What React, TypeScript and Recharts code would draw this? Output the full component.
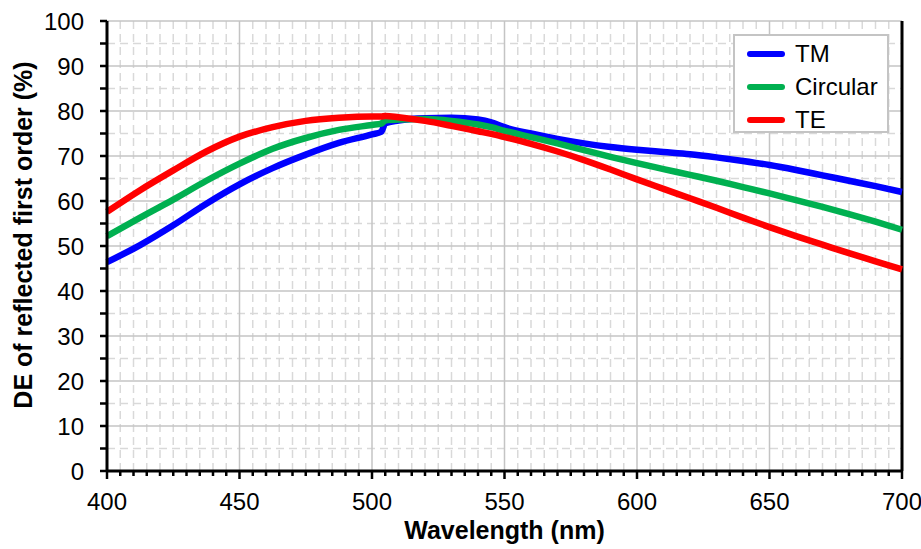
import React from 'react';
import { LineChart, Line, XAxis, YAxis, ReferenceLine } from 'recharts';

const wavelengths = [
  400, 412.5, 425, 437.5, 450, 462.5, 475, 487.5, 500, 503.5, 505, 510, 520, 530, 540, 545,
  550, 560, 570, 580, 590, 600, 610, 620, 630, 640, 650, 660, 670, 680, 690, 700,
];
const tmValues = [
  46.4, 50.2, 54.6, 59.4, 63.7, 67.3, 70.3, 72.9, 74.8, 75.4, 77.3, 77.9, 78.4, 78.5, 78.1, 77.5,
  76.4, 75.0, 73.8, 72.8, 72.0, 71.4, 70.9, 70.4, 69.7, 68.9, 68.0, 66.9, 65.7, 64.5, 63.3, 62.0,
];
const circularValues = [
  52.2, 56.3, 60.3, 64.5, 68.3, 71.6, 74.0, 75.8, 76.9, 77.2, 77.9, 78.1, 78.2, 77.8, 77.0, 76.4,
  75.6, 74.2, 72.8, 71.3, 69.8, 68.4, 67.1, 65.8, 64.5, 63.1, 61.7, 60.2, 58.7, 57.1, 55.4, 53.6,
];
const teValues = [
  57.6, 62.4, 66.8, 71.0, 74.3, 76.4, 77.8, 78.5, 78.8, 78.8, 78.9, 78.6, 77.8, 76.7, 75.5, 74.9,
  74.2, 72.7, 71.0, 69.1, 67.0, 64.8, 62.7, 60.6, 58.5, 56.3, 54.2, 52.2, 50.3, 48.4, 46.6, 44.8,
];

const series = [
  { key: 'tm', name: 'TM', color: '#0000FF', values: tmValues },
  { key: 'circ', name: 'Circular', color: '#00B050', values: circularValues },
  { key: 'te', name: 'TE', color: '#FF0000', values: teValues },
];

const xTicks: number[] = [];
for (let v = 400; v <= 700; v += 5) xTicks.push(v);
const yTicks: number[] = [];
for (let v = 0; v <= 100; v += 5) yTicks.push(v);

const data = wavelengths.map((w, i) => {
  const row: Record<string, number> = { wl: w };
  series.forEach((s) => (row[s.key] = s.values[i]));
  return row;
});

const FONT = '"Liberation Sans", Arial, sans-serif';

function XTick({ x, y, payload }: any) {
  const major = payload.value % 50 === 0;
  return (
    <g>
      <line x1={x} x2={x} y1={y} y2={y + (major ? 8 : 5)} stroke="#000" strokeWidth={2.5} />
      {major && (
        <text x={x} y={y + 30} dy="0.36em" textAnchor="middle" fontSize={24} fontFamily={FONT} fill="#000">
          {payload.value}
        </text>
      )}
    </g>
  );
}

function YTick({ x, y, payload }: any) {
  const major = payload.value % 10 === 0;
  return (
    <g>
      <line x1={x - 7} x2={x} y1={y} y2={y} stroke="#000" strokeWidth={2.5} />
      {major && (
        <text x={x - 23} y={y} dy="0.36em" textAnchor="end" fontSize={24} fontFamily={FONT} fill="#000">
          {payload.value}
        </text>
      )}
    </g>
  );
}

function LegendBox() {
  return (
    <div
      style={{
        position: 'absolute',
        left: 733,
        top: 34,
        width: 152,
        height: 94,
        border: '2px solid #c4c4c4',
        background: '#fff',
        fontFamily: FONT,
        fontSize: 24,
        paddingTop: 1,
      }}
    >
      {series.map((s) => (
        <div key={s.key} style={{ display: 'flex', alignItems: 'center', height: 33, paddingLeft: 12 }}>
          <div style={{ width: 38, height: 6, borderRadius: 3, background: s.color }} />
          <span style={{ marginLeft: 10 }}>{s.name}</span>
        </div>
      ))}
    </div>
  );
}

export default function App() {
  const minorX = xTicks.filter((v) => v % 50 !== 0);
  const majorX = xTicks.filter((v) => v % 50 === 0 && v > 400 && v < 700);
  const minorY = yTicks.filter((v) => v % 10 !== 0);
  const majorY = yTicks.filter((v) => v % 10 === 0 && v > 0);

  return (
    <div style={{ position: 'absolute', left: 0, top: 0, width: 921, height: 549, background: '#fff' }}>
      <LineChart width={921} height={549} data={data} margin={{ top: 21, right: 19, left: 0, bottom: 0 }}>
        {minorX.map((v) => (
          <ReferenceLine key={`mx${v}`} x={v} stroke="#d9d9d9" strokeWidth={1.5} strokeDasharray="8 5" />
        ))}
        {minorY.map((v) => (
          <ReferenceLine key={`my${v}`} y={v} stroke="#d9d9d9" strokeWidth={1.5} strokeDasharray="8 5" />
        ))}
        {majorX.map((v) => (
          <ReferenceLine key={`Mx${v}`} x={v} stroke="#c4c4c4" strokeWidth={1.5} />
        ))}
        {majorY.map((v) => (
          <ReferenceLine key={`My${v}`} y={v} stroke="#c4c4c4" strokeWidth={1.5} />
        ))}
        <ReferenceLine x={700} stroke="#000" strokeWidth={3} />
        <XAxis
          dataKey="wl"
          type="number"
          domain={[400, 700]}
          ticks={xTicks}
          interval={0}
          height={78}
          tickSize={0}
          tickMargin={0}
          tickLine={false}
          tick={<XTick />}
          axisLine={{ stroke: '#000', strokeWidth: 3 }}
          label={{
            value: 'Wavelength (nm)',
            position: 'insideBottom',
            offset: 10,
            style: { fontSize: 25, fontWeight: 'bold', fontFamily: FONT, fill: '#000' },
          }}
        />
        <YAxis
          type="number"
          domain={[0, 100]}
          ticks={yTicks}
          interval={0}
          width={107}
          tickSize={0}
          tickMargin={0}
          tickLine={false}
          tick={<YTick />}
          axisLine={{ stroke: '#000', strokeWidth: 3 }}
          label={{
            content: ({ viewBox }: any) => (
              <text
                x={viewBox.x + 23}
                y={viewBox.y + viewBox.height / 2 - 11}
                transform={`rotate(-90 ${viewBox.x + 23} ${viewBox.y + viewBox.height / 2 - 11})`}
                textAnchor="middle"
                dy="0.36em"
                fontSize={25}
                fontWeight="bold"
                fontFamily={FONT}
                fill="#000"
              >
                DE of reflected first order (%)
              </text>
            ),
          }}
        />
        {series.map((s) => (
          <Line
            key={s.key}
            dataKey={s.key}
            name={s.name}
            type="monotone"
            stroke={s.color}
            strokeWidth={6.5}
            dot={false}
            activeDot={false}
            isAnimationActive={false}
          />
        ))}
      </LineChart>
      <LegendBox />
    </div>
  );
}
